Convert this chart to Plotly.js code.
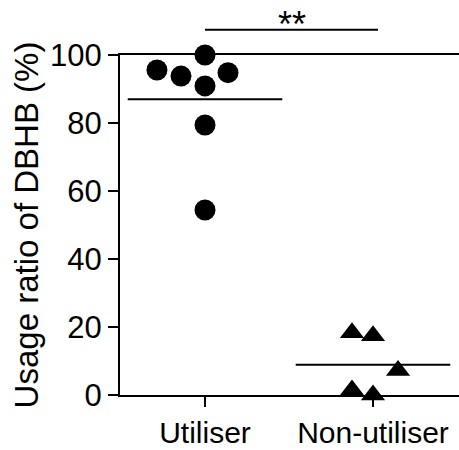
<!DOCTYPE html>
<html>
<head>
<meta charset="utf-8">
<script src="https://cdn.plot.ly/plotly-3.0.1.min.js"></script>
<style>html,body{margin:0;padding:0;background:#fff;}#chart{width:459px;height:450px;}</style>
</head>
<body>
<div id="chart"></div>
<script>
const categories = ["Utiliser", "Non-utiliser"];
const utiliserValues = [100, 95.6, 93.8, 94.8, 90.9, 79.4, 54.4];
const utiliserJitter = [0, -0.286, -0.143, 0.137, 0, 0, 0];
const nonUtiliserValues = [18.3, 17.4, 7.2, 1.5, 0];
const nonUtiliserJitter = [-0.125, 0.0, 0.149, -0.125, 0.0];
const yTickVals = [0, 20, 40, 60, 80, 100];
const significance = "**";
const sigBarLevel = 107.4;

const mean = a => a.reduce((s, v) => s + v, 0) / a.length;
const FONT = "Liberation Sans, Arial, Helvetica, sans-serif";
const Y_RANGE = [0, 100];
const toPaperY = v => (v - Y_RANGE[0]) / (Y_RANGE[1] - Y_RANGE[0]);

const traces = [
  {
    x: utiliserJitter.map(j => 0 + j), y: utiliserValues,
    type: "scatter", mode: "markers", cliponaxis: false,
    marker: {symbol: "circle", size: 21, color: "#000"},
    hoverinfo: "y"
  },
  {
    x: nonUtiliserJitter.map(j => 1 + j), y: nonUtiliserValues,
    type: "scatter", mode: "markers", cliponaxis: false,
    marker: {symbol: "triangle-up", size: 21, color: "#000"},
    hoverinfo: "y"
  }
];

const means = [mean(utiliserValues), mean(nonUtiliserValues)];
const shapes = means.map((m, i) => ({
  type: "line", xref: "x", yref: "y",
  x0: i - 0.46, x1: i + 0.46, y0: m, y1: m,
  line: {color: "#000", width: 2}
}));
shapes.push({
  type: "line", xref: "x", yref: "paper",
  x0: 0, x1: 1.03, y0: toPaperY(sigBarLevel), y1: toPaperY(sigBarLevel),
  line: {color: "#000", width: 2}
});

const layout = {
  width: 459, height: 450,
  margin: {l: 120, r: 0, t: 55, b: 55},
  paper_bgcolor: "#fff", plot_bgcolor: "#fff",
  showlegend: false,
  font: {family: FONT, color: "#000", size: 31},
  xaxis: {
    range: [-0.506, 1.512],
    tickvals: [0, 1], ticktext: categories,
    ticks: "outside", ticklen: 10, tickwidth: 2, tickcolor: "#000",
    showline: true, linewidth: 2, linecolor: "#000", mirror: true,
    showgrid: false, zeroline: false,
    tickfont: {family: FONT, size: 30, color: "#000"}
  },
  yaxis: {
    range: Y_RANGE,
    tickvals: yTickVals,
    ticks: "outside", ticklen: 10, tickwidth: 2, tickcolor: "#000",
    showline: true, linewidth: 2, linecolor: "#000", mirror: false,
    showgrid: false, zeroline: false,
    tickfont: {family: FONT, size: 31, color: "#000"},
    title: {text: "Usage ratio of DBHB (%)", font: {family: FONT, size: 33, color: "#000"}, standoff: 2}
  },
  shapes: shapes,
  annotations: [{
    x: 0.515, y: toPaperY(sigBarLevel), xref: "x", yref: "paper",
    text: significance, showarrow: false,
    yanchor: "bottom", yshift: -17,
    font: {family: FONT, size: 36, color: "#000"}
  }]
};

Plotly.newPlot("chart", traces, layout, {staticPlot: true});
</script>
</body>
</html>
